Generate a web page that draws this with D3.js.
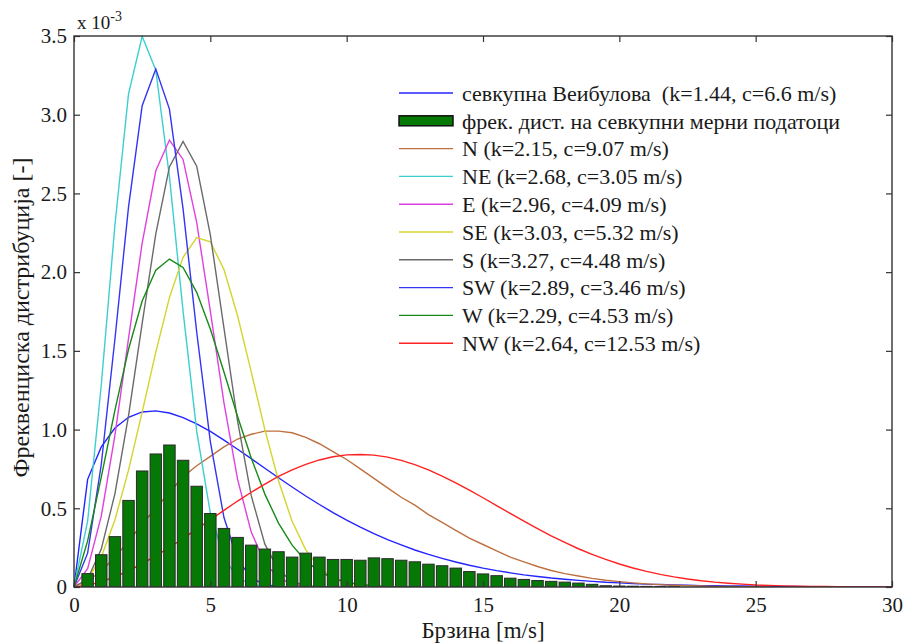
<!DOCTYPE html>
<html>
<head>
<meta charset="utf-8">
<script src="https://cdn.jsdelivr.net/npm/d3@7"></script>
<style>
  body { margin: 0; background: #fff; }
  svg text { fill: #1a1a1a; }
</style>
</head>
<body>
<svg id="chart"></svg>
<script>
// wind speed grid of the curves [m/s], 0.5 m/s steps
var speeds = [0, 0.5, 1, 1.5, 2, 2.5, 3, 3.5, 4, 4.5, 5, 5.5, 6, 6.5, 7, 7.5, 8, 8.5, 9, 9.5,
  10, 10.5, 11, 11.5, 12, 12.5, 13, 13.5, 14, 14.5, 15, 15.5, 16, 16.5, 17, 17.5, 18, 18.5, 19, 19.5,
  20, 20.5, 21, 21.5, 22, 22.5, 23, 23.5, 24, 24.5, 25, 25.5, 26, 26.5, 27, 27.5, 28, 28.5, 29, 29.5, 30];

// curve values (x 10^-3), starting at 0 m/s
var total = [0, 0.684, 0.890, 1.010, 1.078, 1.112, 1.119, 1.105, 1.076, 1.036,
  0.988, 0.933, 0.875, 0.815, 0.754, 0.694, 0.635, 0.578, 0.524, 0.473,
  0.425, 0.380, 0.339, 0.301, 0.267, 0.235, 0.207, 0.182, 0.159, 0.138,
  0.120, 0.104, 0.090, 0.077, 0.067, 0.057, 0.049, 0.042, 0.036, 0.030,
  0.026, 0.022, 0.018, 0.016, 0.013, 0.011, 0.009, 0.008, 0.007, 0.006,
  0.005, 0.004, 0.003, 0.003, 0.002, 0.002, 0.002, 0.001, 0.001, 0.001, 0.001];
var north = [0, 0.04, 0.10, 0.19, 0.29, 0.40, 0.50, 0.60, 0.70, 0.77,
  0.83, 0.89, 0.94, 0.97, 0.99, 0.99, 0.98, 0.95, 0.91, 0.86,
  0.81, 0.75, 0.69, 0.63, 0.57, 0.52, 0.46, 0.41, 0.36, 0.31,
  0.27, 0.23, 0.19, 0.16, 0.13, 0.105, 0.085, 0.07, 0.055, 0.043,
  0.034, 0.026, 0.02, 0.015, 0.011, 0.008, 0.006, 0.004, 0.003, 0.002, 0.001, 0];
var northEast = [0, 0.418, 1.283, 2.298, 3.132, 3.498, 3.283, 2.607, 1.752, 0.990,
  0.470, 0.184, 0.059, 0.016, 0.003, 0.001, 0];
var east = [0, 0.117, 0.450, 0.963, 1.579, 2.185, 2.644, 2.839, 2.716, 2.316,
  1.752, 1.169, 0.684, 0.349, 0.153, 0.058, 0.019, 0.005, 0.001, 0];
var southEast = [0, 0.047, 0.190, 0.426, 0.742, 1.111, 1.492, 1.838, 2.094, 2.220,
  2.193, 2.017, 1.723, 1.366, 1.000, 0.675, 0.417, 0.236, 0.121, 0.056,
  0.024, 0.009, 0.003, 0];
var south = [0, 0.050, 0.241, 0.592, 1.089, 1.674, 2.243, 2.668, 2.830, 2.673,
  2.237, 1.645, 1.053, 0.580, 0.272, 0.107, 0.035, 0.009, 0.002, 0];
var southWest = [0, 0.215, 0.778, 1.574, 2.415, 3.057, 3.290, 3.036, 2.402, 1.620,
  0.924, 0.441, 0.175, 0.057, 0.015, 0.003, 0];
var west = [0, 0.293, 0.698, 1.122, 1.510, 1.817, 2.013, 2.083, 2.030, 1.872,
  1.639, 1.366, 1.083, 0.819, 0.590, 0.406, 0.266, 0.166, 0.099, 0.056,
  0.031, 0.016, 0.008, 0.004, 0.002, 0];
var northWest = [0, 0.011, 0.033, 0.065, 0.103, 0.148, 0.198, 0.251, 0.308, 0.368,
  0.427, 0.487, 0.546, 0.602, 0.654, 0.702, 0.744, 0.779, 0.807, 0.827,
  0.839, 0.842, 0.838, 0.825, 0.804, 0.777, 0.744, 0.705, 0.662, 0.616,
  0.567, 0.517, 0.467, 0.418, 0.371, 0.325, 0.283, 0.243, 0.207, 0.175,
  0.146, 0.121, 0.099, 0.080, 0.064, 0.051, 0.040, 0.031, 0.024, 0.018,
  0.013, 0.010, 0.007, 0.005, 0.004, 0.003, 0.002, 0.001, 0.001, 0.001, 0];

// histogram of measured data: bin centres [m/s] and frequencies (x 10^-3)
var binCentres = [0.5, 1, 1.5, 2, 2.5, 3, 3.5, 4, 4.5, 5, 5.5, 6, 6.5, 7, 7.5, 8, 8.5, 9, 9.5, 10,
  10.5, 11, 11.5, 12, 12.5, 13, 13.5, 14, 14.5, 15, 15.5, 16, 16.5, 17, 17.5, 18, 18.5, 19, 19.5, 20,
  20.5, 21, 21.5, 22];
var binFreq = [0.085, 0.205, 0.32, 0.55, 0.737, 0.845, 0.902, 0.805, 0.64, 0.467,
  0.372, 0.315, 0.266, 0.241, 0.224, 0.19, 0.215, 0.19, 0.175, 0.175,
  0.17, 0.185, 0.18, 0.17, 0.16, 0.145, 0.135, 0.12, 0.098, 0.083,
  0.072, 0.056, 0.048, 0.041, 0.036, 0.031, 0.025, 0.017, 0.008, 0.006,
  0.005, 0.004, 0.003, 0.002];

var xTicks = [0, 5, 10, 15, 20, 25, 30];
var yTicks = [0, 0.5, 1, 1.5, 2, 2.5, 3, 3.5];

var curveLabels = ["севкупна Веибулова  (k=1.44, c=6.6 m/s)", "N (k=2.15, c=9.07 m/s)",
  "NE (k=2.68, c=3.05 m/s)", "E (k=2.96, c=4.09 m/s)", "SE (k=3.03, c=5.32 m/s)",
  "S (k=3.27, c=4.48 m/s)", "SW (k=2.89, c=3.46 m/s)", "W (k=2.29, c=4.53 m/s)",
  "NW (k=2.64, c=12.53 m/s)"];
var barLabel = "фрек. дист. на севкупни мерни податоци";
var curveColors = ["#2424ff", "#bf7040", "#3ccfcf", "#e040e0", "#d4d42c", "#6a6a6a", "#3434f4", "#178a17", "#ff2020"];

var serif = "'Liberation Serif', Tinos, 'Times New Roman', Times, 'Nimbus Roman', FreeSerif, 'Noto Serif', 'DejaVu Serif', serif";

var screen = { width: 906, height: 643 };
var margins = { top: 36, bottom: 56, left: 74, right: 14 };
var graph = {
  width: screen.width - margins.left - margins.right,
  height: screen.height - margins.top - margins.bottom
};

var svg = d3.select("#chart").attr("width", screen.width).attr("height", screen.height)
  .style("font-family", serif);
svg.append("rect").attr("width", screen.width).attr("height", screen.height).attr("fill", "#fff");

var xScale = d3.scaleLinear().domain([0, 30]).range([0, graph.width]);
var yScale = d3.scaleLinear().domain([0, 3.5]).range([graph.height, 0]);

var g = svg.append("g").attr("transform", "translate(" + margins.left + "," + margins.top + ")");

svg.append("defs").append("clipPath").attr("id", "plotClip")
  .append("rect").attr("x", -1).attr("y", -1).attr("width", graph.width + 2).attr("height", graph.height + 1);

// curves first, the bars sit on top of them
var curves = [total, north, northEast, east, southEast, south, southWest, west, northWest];
var line = d3.line()
  .x(function (d, i) { return xScale(speeds[i]); })
  .y(function (d) { return yScale(d); });

var plot = g.append("g").attr("clip-path", "url(#plotClip)");
plot.selectAll("path.curve")
  .data(curves)
  .enter()
  .append("path")
  .attr("class", "curve")
  .attr("d", line)
  .attr("fill", "none")
  .attr("stroke", function (d, i) { return curveColors[i]; })
  .attr("stroke-width", 1.4);

var binWidth = 0.42;
plot.selectAll("rect.bar")
  .data(binFreq)
  .enter()
  .append("rect")
  .attr("class", "bar")
  .attr("x", function (d, i) { return xScale(binCentres[i] - binWidth / 2); })
  .attr("width", xScale(binWidth) - xScale(0))
  .attr("y", function (d) { return yScale(d); })
  .attr("height", function (d) { return yScale(0) - yScale(d); })
  .attr("fill", "#067806")
  .attr("stroke", "#2a2a2a")
  .attr("stroke-width", 1);

// axes, ticks pointing inwards on all four sides
var fmt = function (v) { return v === 0 ? "0" : d3.format(".1f")(v); };
var axisStyle = function (sel) {
  sel.attr("font-family", null);
  sel.select(".domain").remove();
  sel.selectAll(".tick line").attr("stroke", "#333").attr("stroke-width", 1.2);
  sel.selectAll(".tick text").attr("font-size", 21).attr("fill", "#1a1a1a");
};

g.append("g").attr("transform", "translate(0," + graph.height + ")")
  .call(d3.axisBottom(xScale).tickValues(xTicks).tickSize(-6).tickPadding(10).tickFormat(d3.format("d")))
  .call(axisStyle);
g.append("g")
  .call(d3.axisTop(xScale).tickValues(xTicks).tickSize(-6).tickFormat(""))
  .call(axisStyle);
g.append("g")
  .call(d3.axisLeft(yScale).tickValues(yTicks).tickSize(-6).tickPadding(7).tickFormat(fmt))
  .call(axisStyle);
g.append("g").attr("transform", "translate(" + graph.width + ",0)")
  .call(d3.axisRight(yScale).tickValues(yTicks).tickSize(-6).tickFormat(""))
  .call(axisStyle);

g.append("rect")
  .attr("width", graph.width).attr("height", graph.height)
  .attr("fill", "none").attr("stroke", "#333").attr("stroke-width", 1.4);

// exponent note
var note = svg.append("text").attr("x", margins.left + 3).attr("y", 29).attr("font-size", 19);
note.append("tspan").text("x 10");
note.append("tspan").attr("dy", -8).attr("font-size", 14).text("-3");

// axis titles
svg.append("text")
  .text("Брзина [m/s]")
  .attr("text-anchor", "middle")
  .attr("font-size", 23)
  .attr("x", margins.left + graph.width / 2)
  .attr("y", 638);

svg.append("g")
  .attr("transform", "translate(29," + (margins.top + graph.height / 2 + 6) + ")")
  .append("text")
  .text("Фреквенциска дистрибуција [-]")
  .attr("text-anchor", "middle")
  .attr("font-size", 24)
  .attr("transform", "rotate(-90)");

// legend
var legend = svg.append("g").attr("transform", "translate(399,93)");
var rowGap = 27.8;
var legendRows = [curveLabels[0], barLabel].concat(curveLabels.slice(1));
var rows = legend.selectAll("g.row")
  .data(legendRows)
  .enter()
  .append("g")
  .attr("class", "row")
  .attr("transform", function (d, i) { return "translate(0," + i * rowGap + ")"; });

rows.each(function (d, i) {
  var row = d3.select(this);
  if (i === 1) {
    row.append("rect").attr("x", 0).attr("y", -5).attr("width", 54).attr("height", 10)
      .attr("fill", "#067806").attr("stroke", "#111").attr("stroke-width", 1.5);
  } else {
    var ci = i === 0 ? 0 : i - 1;
    row.append("line").attr("x1", 0).attr("x2", 54).attr("y1", 0).attr("y2", 0)
      .attr("stroke", curveColors[ci]).attr("stroke-width", 1.4);
  }
  row.append("text").text(d).attr("x", 63).attr("dy", "0.35em").attr("font-size", 22)
    .style("white-space", "pre");
});
</script>
</body>
</html>
